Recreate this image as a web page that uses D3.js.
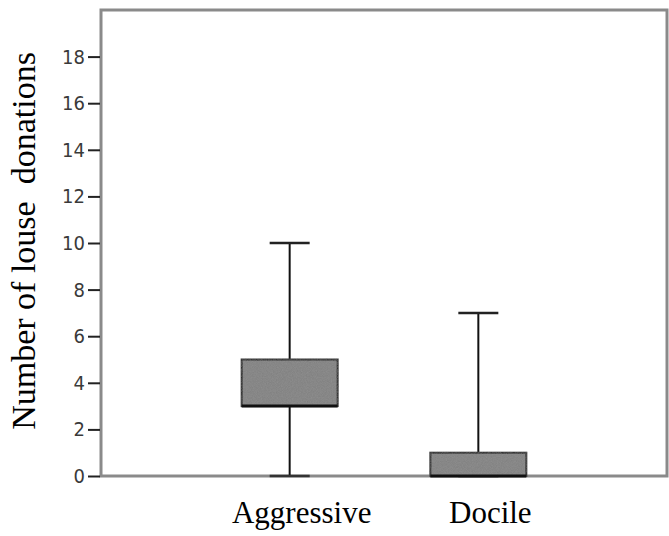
<!DOCTYPE html>
<html>
<head>
<meta charset="utf-8">
<script src="https://cdn.jsdelivr.net/npm/d3@7"></script>
<style>
  html, body { margin: 0; padding: 0; background: #fff; }
  svg { display: block; }
</style>
</head>
<body>
<svg id="chart" width="669" height="536"></svg>
<script>
// Box plot summaries per group: whisker ends, quartiles, median
const groups = ["Aggressive", "Docile"];
const whiskerLow  = [0, 0];
const q1          = [3, 0];
const medians     = [3, 0];
const q3          = [5, 1];
const whiskerHigh = [10, 7];
const yTicks = [0, 2, 4, 6, 8, 10, 12, 14, 16, 18];

const svg = d3.select("#chart");
const plotLeft = 101, plotRight = 667, plotTop = 10, plotBottom = 476;

const y = d3.scaleLinear().domain([0, 20]).range([plotBottom, plotTop]);
const x = d3.scalePoint().domain(groups).range([plotLeft, plotRight]).padding(1);

const boxHalf = 48, capHalf = 20;

// Noise texture for the box fill
const defs = svg.append("defs");
const filt = defs.append("filter").attr("id", "grain");
filt.append("feTurbulence").attr("type", "fractalNoise").attr("baseFrequency", 1.2)
  .attr("numOctaves", 1).attr("seed", 3).attr("result", "n");
filt.append("feColorMatrix").attr("in", "n").attr("type", "matrix")
  .attr("values", "0 0 0 0 0.5  0 0 0 0 0.5  0 0 0 0 0.5  0 0 0 0.25 0").attr("result", "g");
filt.append("feComposite").attr("in", "g").attr("in2", "SourceGraphic").attr("operator", "in").attr("result", "gg");
filt.append("feMerge").selectAll("feMergeNode").data(["SourceGraphic", "gg"]).enter()
  .append("feMergeNode").attr("in", d => d);

// Frame
svg.append("rect")
  .attr("x", plotLeft).attr("y", plotTop)
  .attr("width", plotRight - plotLeft).attr("height", plotBottom - plotTop)
  .attr("fill", "none").attr("stroke", "#8a8a8a").attr("stroke-width", 3);

// Y axis ticks and labels
const yAxis = d3.axisLeft(y).tickValues(yTicks).tickSize(12).tickPadding(3).tickFormat(d3.format("d"));
const ga = svg.append("g").attr("transform", `translate(${plotLeft - 1},0)`).call(yAxis);
ga.select(".domain").remove();
ga.selectAll(".tick line").attr("stroke", "#222").attr("stroke-width", 2);
ga.selectAll(".tick text")
  .attr("font-family", "'DejaVu Sans Condensed', 'DejaVu Sans', sans-serif")
  .attr("font-stretch", "condensed")
  .attr("font-size", 20).attr("fill", "#3a3a3a");

// Boxes
const data = groups.map((g, i) => ({
  g, lo: whiskerLow[i], q1: q1[i], med: medians[i], q3: q3[i], hi: whiskerHigh[i]
}));

const bx = svg.append("g").selectAll("g").data(data).enter().append("g");

// upper whisker
bx.append("line")
  .attr("x1", d => x(d.g)).attr("x2", d => x(d.g))
  .attr("y1", d => y(d.q3)).attr("y2", d => y(d.hi))
  .attr("stroke", "#111").attr("stroke-width", 2);
// lower whisker
bx.append("line")
  .attr("x1", d => x(d.g)).attr("x2", d => x(d.g))
  .attr("y1", d => y(d.q1)).attr("y2", d => y(d.lo))
  .attr("stroke", "#111").attr("stroke-width", 2);
// caps
bx.append("line")
  .attr("x1", d => x(d.g) - capHalf).attr("x2", d => x(d.g) + capHalf)
  .attr("y1", d => y(d.hi)).attr("y2", d => y(d.hi))
  .attr("stroke", "#222").attr("stroke-width", 2.5);
bx.append("line")
  .attr("x1", d => x(d.g) - capHalf).attr("x2", d => x(d.g) + capHalf)
  .attr("y1", d => y(d.lo)).attr("y2", d => y(d.lo))
  .attr("stroke", "#333").attr("stroke-width", 2.5);
// box
bx.append("rect")
  .attr("x", d => x(d.g) - boxHalf).attr("width", boxHalf * 2)
  .attr("y", d => y(d.q3)).attr("height", d => y(d.q1) - y(d.q3))
  .attr("fill", "#7e7e7e").attr("filter", "url(#grain)")
  .attr("stroke", "#111").attr("stroke-width", 2);
// median
bx.append("line")
  .attr("x1", d => x(d.g) - boxHalf).attr("x2", d => x(d.g) + boxHalf)
  .attr("y1", d => y(d.med)).attr("y2", d => y(d.med))
  .attr("stroke", "#111").attr("stroke-width", 3);

// Category labels (set slightly right of each box centre)
svg.append("g").selectAll("text").data(groups).enter().append("text")
  .attr("x", d => x(d) + 12).attr("y", 523)
  .attr("text-anchor", "middle")
  .attr("font-family", "'Liberation Serif', 'Times New Roman', serif")
  .attr("font-size", 31).attr("fill", "#000")
  .text(d => d);

// Y axis title
svg.append("text")
  .attr("transform", `translate(35,241) rotate(-90)`)
  .attr("text-anchor", "middle")
  .attr("font-family", "'Liberation Serif', 'Times New Roman', serif")
  .attr("font-size", 34).attr("fill", "#000")
  .attr("xml:space", "preserve")
  .text("Number of louse  donations");
</script>
</body>
</html>
